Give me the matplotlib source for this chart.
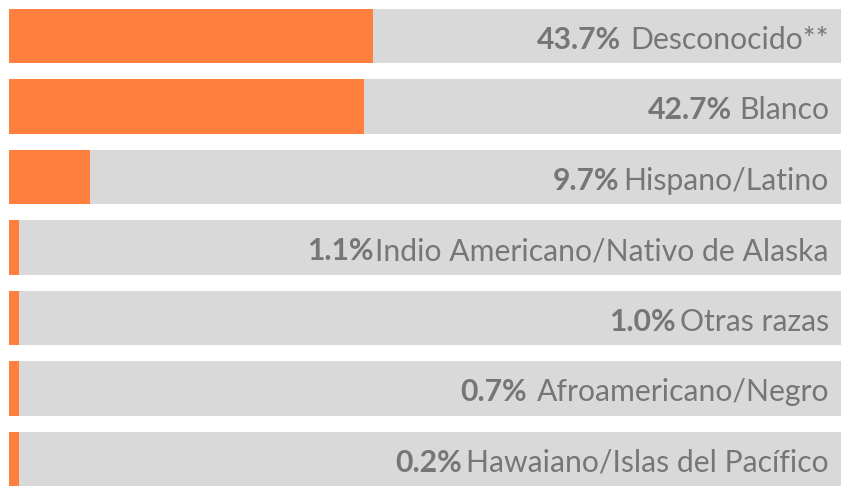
import numpy as np
import matplotlib
matplotlib.use("Agg")
import matplotlib.pyplot as plt

categories = ["Desconocido**", "Blanco", "Hispano/Latino",
              "Indio Americano/Nativo de Alaska", "Otras razas",
              "Afroamericano/Negro", "Hawaiano/Islas del Pacífico"]
values = [43.7, 42.7, 9.7, 1.1, 1.0, 0.7, 0.2]
pct_labels = ["43.7%", "42.7%", "9.7%", "1.1%", "1.0%", "0.7%", "0.2%"]
total = 100

W, H = 853, 487
fig = plt.figure(figsize=(W / 100, H / 100), dpi=100)
ax = fig.add_axes([0, 0, 1, 1])

px_per_unit = 8.32
x0_px = 9
row0_px, row_step = 36, 70.5
ax.set_xlim(-x0_px / px_per_unit, (W - x0_px) / px_per_unit)
ax.set_ylim((H - row0_px) / row_step, -row0_px / row_step)
ax.axis("off")

ypos = np.arange(len(categories))
orange = "#FF7F3F"
grey_bg = "#D9D9D9"
txt_col = "#767676"

ax.barh(ypos, [total] * len(values), height=0.77, color=grey_bg, left=0)
display_vals = np.maximum(values, 1.2)
ax.barh(ypos, display_vals, height=0.77, color=orange, left=0)

font = "Lato"
fs = 21.7
gaps = [10, 7, 4, 2, 4, 10, 4]
x_text = (829 - x0_px) / px_per_unit
for y, cat, pct, g in zip(ypos, categories, pct_labels, gaps):
    t = ax.text(x_text, y + 0.05, cat, ha="right", va="center", fontsize=fs,
                color=txt_col, family=font)
    ax.annotate(pct, xy=(0, 0.5), xycoords=t, xytext=(-g * 0.72, 0),
                textcoords="offset points", ha="right", va="center",
                fontsize=fs, fontweight="bold", color=txt_col, family=font)

fig.savefig("out.png", dpi=100)
